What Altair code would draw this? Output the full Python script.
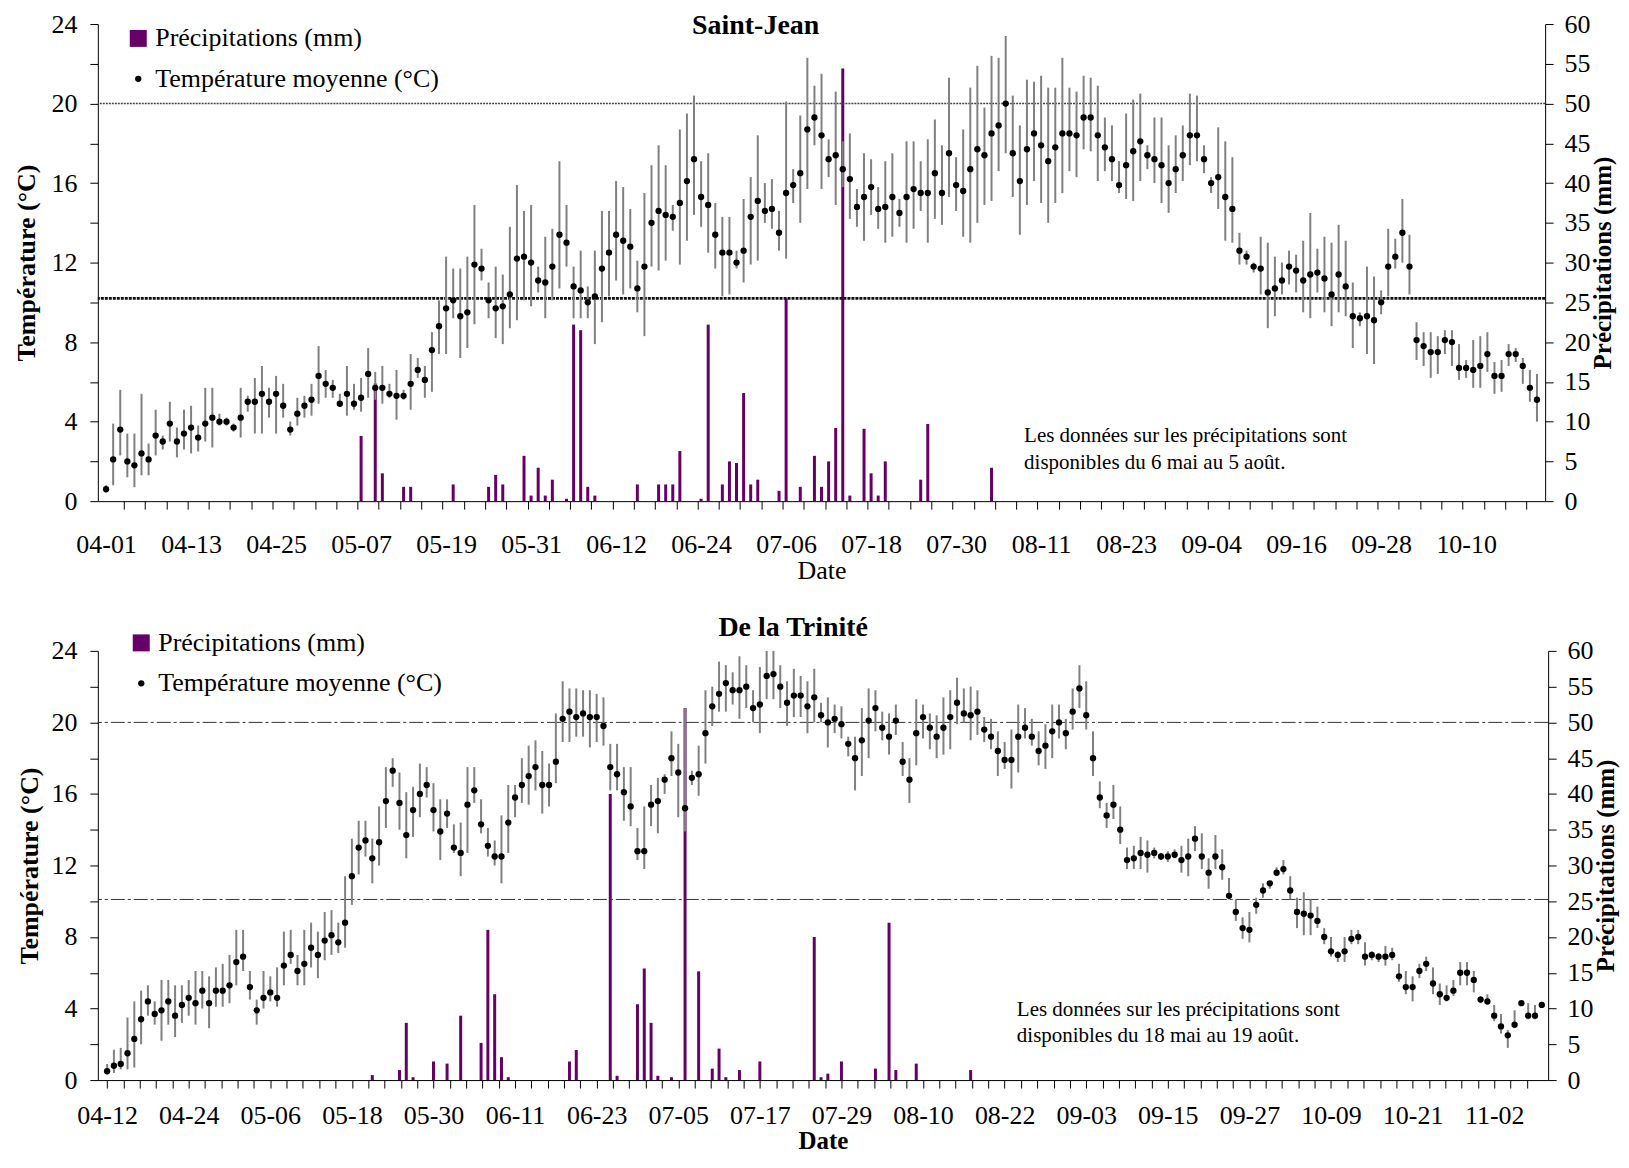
import altair as alt
import pandas as pd

FONT = "Liberation Serif"
POURPRE = "#660066"
SERIES = ["Précipitations (mm)", "Température moyenne (°C)"]

# ---------------- Saint-Jean : 1er avril -> 20 octobre ----------------
SJ_MOY = [
    0.6, 2.1, 3.6, 2.0, 1.8, 2.4, 2.1, 3.3, 3.0, 3.9,
    3.0, 3.4, 3.7, 3.2, 3.9, 4.2, 4.0, 4.0, 3.7, 4.2,
    5.0, 5.0, 5.4, 5.0, 5.4, 4.8, 3.6, 4.4, 4.8, 5.1,
    6.3, 5.9, 5.7, 4.9, 5.4, 4.9, 5.2, 6.4, 5.7, 5.7,
    5.4, 5.3, 5.3, 5.9, 6.6, 6.1, 7.6, 8.8, 9.7, 10.1,
    9.3, 9.5, 11.9, 11.7, 10.1, 9.7, 9.8, 10.4, 12.2, 12.3,
    12.0, 11.1, 11.0, 11.8, 13.4, 13.0, 10.8, 10.6, 10.0, 10.3,
    11.7, 12.5, 13.4, 13.1, 12.8, 10.7, 11.8, 14.0, 14.6, 14.4,
    14.3, 15.0, 16.1, 17.2, 15.3, 14.9, 13.4, 12.5, 12.5, 12.0,
    12.6, 14.3, 15.1, 14.6, 14.7, 13.5, 15.5, 15.9, 16.5, 18.7,
    19.3, 18.4, 17.2, 17.4, 16.7, 16.2, 14.8, 15.3, 15.8, 14.7,
    14.8, 15.3, 14.5, 15.3, 15.7, 15.5, 15.5, 16.5, 15.5, 17.5,
    15.9, 15.6, 16.7, 17.7, 17.4, 18.5, 18.9, 20.0, 17.5, 16.1,
    17.7, 18.5, 17.9, 17.1, 17.8, 18.5, 18.5, 18.4, 19.3, 19.3,
    18.4, 17.8, 17.2, 15.9, 16.9, 17.6, 18.1, 17.4, 17.2, 16.9,
    16.0, 16.7, 17.4, 18.4, 18.4, 17.2, 16.0, 16.3, 15.3, 14.7,
    12.6, 12.3, 11.8, 11.7, 10.5, 10.7, 11.1, 11.8, 11.6, 11.1,
    11.4, 11.5, 11.2, 10.4, 11.4, 10.8, 9.3, 9.2, 9.3, 9.1,
    10.0, 11.8, 12.3, 13.5, 11.8, 8.1, 7.8, 7.5, 7.5, 8.1,
    8.0, 6.7, 6.7, 6.6, 6.8, 7.4, 6.3, 6.3, 7.4, 7.4,
    6.8, 5.7, 5.1]
SJ_HAUT = [
    0.8, 3.9, 5.6, 3.4, 3.4, 5.4, 2.9, 4.6, 3.3, 5.0,
    3.7, 4.6, 4.8, 3.8, 5.7, 5.7, 4.4, 4.2, 3.9, 5.7,
    5.3, 6.2, 6.8, 5.7, 6.3, 5.9, 4.0, 5.2, 5.3, 5.9,
    7.8, 6.6, 6.1, 5.4, 6.8, 5.9, 6.2, 7.7, 6.5, 6.8,
    5.9, 6.6, 5.6, 7.4, 7.2, 6.8, 8.5, 10.1, 12.3, 11.7,
    11.7, 12.3, 14.9, 12.7, 11.0, 11.8, 11.4, 13.8, 15.9, 14.6,
    14.9, 11.8, 13.3, 13.7, 17.1, 14.9, 11.8, 12.6, 10.8, 12.6,
    14.6, 14.6, 16.1, 15.8, 14.7, 12.1, 15.5, 16.9, 17.9, 16.9,
    14.9, 18.7, 19.5, 20.4, 17.1, 17.5, 15.0, 14.3, 14.3, 12.6,
    15.2, 16.3, 18.4, 16.0, 16.2, 14.6, 20.1, 16.7, 19.4, 22.3,
    20.9, 21.5, 18.2, 20.6, 18.1, 18.5, 15.7, 17.5, 17.2, 15.8,
    17.1, 17.5, 15.2, 18.1, 18.1, 17.1, 18.2, 19.2, 17.9, 21.3,
    17.3, 18.7, 20.8, 21.9, 19.8, 22.4, 22.3, 23.4, 20.4, 18.9,
    21.2, 21.1, 21.4, 20.8, 20.8, 22.3, 20.8, 20.6, 21.4, 21.3,
    20.9, 19.3, 18.9, 17.1, 19.5, 20.2, 20.5, 17.9, 19.3, 19.3,
    17.9, 18.4, 18.9, 20.5, 20.4, 17.9, 16.3, 18.8, 18.1, 17.3,
    13.5, 12.6, 12.0, 13.3, 13.0, 12.3, 12.0, 12.6, 12.4, 13.1,
    14.5, 12.7, 13.3, 13.0, 13.9, 13.1, 11.0, 9.5, 11.8, 11.3,
    10.6, 13.7, 13.2, 15.2, 13.4, 9.0, 8.5, 8.5, 8.3, 8.6,
    8.6, 7.9, 7.1, 8.1, 8.3, 8.5, 7.0, 7.1, 7.9, 7.7,
    7.2, 6.6, 6.4]
SJ_BAS = [
    0.5, 0.8, 2.3, 1.2, 0.7, 1.3, 1.3, 2.3, 2.6, 3.0,
    2.2, 2.6, 2.4, 2.5, 3.0, 2.7, 3.8, 3.8, 3.5, 3.2,
    4.5, 3.4, 3.4, 4.2, 3.4, 4.2, 3.3, 3.8, 4.2, 4.3,
    4.9, 5.2, 5.2, 4.8, 4.3, 4.6, 4.5, 5.2, 5.1, 4.9,
    5.2, 4.1, 5.1, 4.6, 6.2, 5.2, 5.5, 7.4, 7.4, 9.2,
    7.2, 7.7, 8.9, 11.1, 9.2, 8.2, 7.9, 8.7, 9.1, 10.1,
    9.8, 10.5, 9.2, 10.1, 10.7, 11.8, 9.2, 9.2, 9.2, 7.9,
    9.0, 10.3, 11.1, 10.4, 10.7, 9.5, 8.3, 11.8, 11.6, 12.1,
    13.6, 11.9, 13.1, 14.4, 13.8, 12.5, 11.7, 10.3, 10.4, 11.7,
    11.0, 11.9, 12.1, 14.0, 13.7, 12.6, 12.2, 15.0, 14.0, 15.7,
    17.9, 15.7, 16.3, 14.9, 15.8, 14.2, 13.8, 13.1, 14.4, 13.7,
    13.0, 13.3, 13.8, 13.0, 13.7, 14.6, 13.0, 14.2, 13.9, 15.3,
    14.6, 13.3, 13.0, 14.0, 14.9, 15.1, 16.6, 17.5, 15.3, 13.4,
    14.9, 16.1, 15.0, 14.0, 15.0, 15.5, 16.6, 16.3, 17.7, 17.6,
    16.1, 16.6, 16.1, 15.5, 15.2, 15.1, 16.1, 16.7, 16.0, 15.0,
    14.5, 15.5, 16.1, 16.9, 17.1, 16.5, 15.5, 14.7, 13.1, 13.0,
    11.9, 11.9, 11.5, 10.4, 8.7, 9.3, 10.4, 10.9, 10.5, 9.5,
    9.2, 10.5, 9.5, 8.8, 9.5, 9.3, 7.7, 8.8, 7.4, 6.9,
    9.4, 10.3, 11.7, 12.0, 10.4, 7.1, 6.8, 6.2, 6.4, 7.4,
    6.8, 6.1, 6.2, 5.7, 5.7, 6.5, 5.4, 5.5, 6.8, 7.0,
    5.9, 5.0, 4.0]
SJ_PLUIE_DEBUT = 35  # 6 mai (jour 35 après le 1er avril)
SJ_PLUIE = [
    0, 8.2, 0, 14.8, 3.5, 0, 0, 1.8, 1.8, 0,
    0, 0, 0, 0, 2.1, 0, 0, 0, 0, 1.8,
    3.3, 2.1, 0, 0, 5.7, 0.7, 4.2, 0.7, 2.7, 0,
    0.3, 22.2, 21.5, 1.8, 0.7, 0, 0, 0, 0, 0,
    2.1, 0, 0, 2.1, 2.1, 2.1, 6.3, 0, 0, 0.3,
    22.2, 0, 2.1, 5.0, 4.8, 13.6, 2.1, 2.7, 0, 0,
    1.3, 25.5, 0, 1.8, 0, 5.7, 1.8, 5.0, 9.2, 54.4,
    0.7, 0, 9.1, 3.5, 0.7, 5.0, 0, 0, 0, 0,
    2.7, 9.7, 0, 0, 0, 0, 0, 0, 0, 0,
    4.2, 0]

# ---------------- De la Trinité : 12 avril -> 9 novembre ----------------
TR_MOY = [
    0.5, 0.8, 0.9, 1.5, 2.3, 3.4, 4.4, 3.7, 3.9, 4.4,
    3.6, 4.2, 4.6, 4.3, 5.0, 4.3, 5.0, 5.0, 5.3, 6.6,
    6.9, 5.2, 3.9, 4.6, 4.9, 4.6, 6.4, 7.0, 6.1, 6.5,
    7.4, 7.0, 7.8, 8.1, 7.7, 8.8, 11.4, 13.0, 13.4, 12.4,
    13.3, 15.6, 17.3, 15.5, 13.7, 15.1, 16.0, 16.5, 15.1, 13.9,
    14.9, 13.0, 12.7, 15.4, 16.2, 14.3, 13.1, 12.5, 12.5, 14.4,
    15.8, 16.5, 17.0, 17.5, 16.5, 16.5, 17.8, 20.2, 20.6, 20.3,
    20.5, 20.3, 20.3, 19.8, 17.5, 17.1, 16.1, 15.3, 12.8, 12.8,
    15.4, 15.6, 16.8, 18.0, 17.2, 15.2, 16.9, 17.1, 19.4, 20.9,
    21.6, 22.2, 21.8, 21.8, 22.0, 20.8, 21.0, 22.6, 22.7, 22.0,
    21.1, 21.5, 21.5, 20.9, 21.4, 20.4, 20.0, 20.2, 19.9, 18.8,
    18.0, 19.0, 20.1, 20.8, 19.7, 19.2, 20.1, 17.8, 16.8, 19.4,
    20.3, 19.7, 19.2, 19.7, 20.3, 21.1, 20.5, 20.4, 20.6, 19.6,
    19.2, 18.4, 17.9, 17.9, 19.2, 19.7, 19.2, 18.4, 18.7, 19.5,
    20.0, 19.4, 20.6, 21.9, 20.4, 18.0, 15.8, 14.8, 15.4, 14.0,
    12.3, 12.4, 12.7, 12.6, 12.7, 12.5, 12.5, 12.6, 12.3, 12.5,
    13.5, 12.5, 11.6, 12.5, 11.9, 10.3, 9.4, 8.5, 8.4, 9.8,
    10.6, 11.0, 11.6, 11.8, 10.6, 9.4, 9.3, 9.2, 8.9, 8.0,
    7.2, 7.0, 7.2, 7.9, 8.0, 6.9, 7.0, 6.9, 6.9, 7.0,
    5.8, 5.2, 5.2, 6.1, 6.5, 5.4, 4.8, 4.6, 5.0, 6.0,
    6.0, 5.6, 4.5, 4.4, 3.6, 3.0, 2.5, 3.1, 4.3, 3.6,
    3.6, 4.2]
TR_HAUT = [
    0.9, 1.7, 1.8, 3.5, 4.4, 5.0, 5.3, 4.4, 5.6, 5.6,
    5.3, 5.3, 5.6, 6.1, 6.1, 5.8, 6.3, 6.5, 7.0, 8.4,
    8.4, 6.1, 4.5, 6.1, 5.8, 6.3, 8.3, 8.4, 7.0, 8.4,
    8.8, 8.3, 9.4, 9.5, 8.8, 11.4, 13.5, 14.5, 14.5, 13.5,
    15.3, 17.5, 18.0, 17.2, 16.1, 16.4, 17.7, 17.5, 16.6, 15.7,
    15.7, 14.3, 14.4, 17.5, 17.5, 15.7, 14.1, 13.4, 14.8, 16.5,
    16.5, 18.0, 18.7, 19.0, 18.4, 17.7, 20.5, 22.3, 21.9, 21.9,
    21.8, 21.8, 21.6, 21.4, 18.8, 18.8, 17.5, 17.5, 14.1, 15.3,
    16.5, 16.9, 17.1, 19.5, 18.8, 20.8, 17.3, 18.7, 21.8, 22.0,
    23.4, 23.2, 22.8, 23.7, 23.2, 21.8, 23.1, 24.0, 24.0, 23.2,
    22.3, 23.0, 22.6, 22.3, 23.0, 21.1, 21.4, 21.0, 20.9, 19.2,
    19.2, 20.8, 21.9, 21.8, 20.6, 20.5, 21.0, 18.9, 18.0, 21.3,
    21.0, 20.5, 20.4, 21.4, 21.8, 22.5, 21.9, 22.0, 21.8, 20.3,
    20.2, 19.5, 18.9, 19.6, 21.0, 20.8, 20.2, 19.5, 19.9, 21.0,
    21.0, 20.2, 21.9, 23.2, 22.3, 19.5, 16.7, 15.5, 16.5, 15.3,
    13.0, 13.1, 13.6, 13.4, 13.0, 12.7, 12.8, 12.9, 13.1, 13.5,
    14.2, 13.8, 12.4, 13.7, 12.9, 11.3, 10.1, 9.1, 9.4, 10.2,
    11.0, 11.1, 11.9, 12.3, 11.4, 10.2, 10.5, 10.1, 9.7, 8.5,
    8.0, 7.2, 8.0, 8.4, 8.4, 7.7, 7.2, 7.1, 7.5, 7.4,
    6.5, 6.1, 5.8, 6.5, 6.9, 6.3, 5.4, 5.3, 5.6, 6.6,
    6.6, 6.1, 4.7, 4.8, 4.2, 3.7, 2.8, 3.9, 4.4, 4.3,
    4.2, 4.3]
TR_BAS = [
    0.3, 0.4, 0.6, 0.6, 0.7, 2.0, 3.6, 3.1, 2.2, 3.1,
    2.4, 3.2, 3.6, 3.1, 4.0, 2.9, 4.1, 4.1, 4.3, 5.3,
    6.1, 4.5, 3.1, 4.0, 4.4, 4.1, 5.3, 6.5, 5.3, 5.3,
    6.3, 5.7, 6.7, 7.0, 7.1, 7.4, 9.8, 11.5, 12.5, 11.0,
    12.0, 14.1, 16.4, 14.0, 12.4, 13.6, 14.7, 15.8, 13.9, 12.3,
    14.1, 12.7, 11.4, 12.7, 15.5, 13.8, 12.5, 12.0, 11.0, 12.7,
    14.7, 15.5, 15.4, 16.2, 14.9, 15.3, 16.6, 18.9, 18.9, 19.2,
    19.2, 18.6, 18.9, 18.7, 16.2, 16.2, 14.5, 14.2, 12.3, 11.8,
    14.2, 13.8, 16.0, 17.0, 14.7, 13.9, 16.5, 15.9, 17.7, 19.8,
    20.6, 20.6, 21.0, 20.2, 20.8, 20.0, 19.4, 21.3, 21.3, 20.8,
    19.8, 20.3, 20.3, 19.4, 20.0, 20.0, 18.6, 19.4, 19.1, 18.1,
    16.2, 17.0, 18.0, 19.5, 19.0, 18.2, 19.3, 17.0, 15.5, 17.6,
    19.1, 18.5, 18.0, 18.2, 18.5, 19.9, 20.0, 19.0, 19.3, 18.9,
    18.5, 17.0, 17.4, 16.3, 17.2, 19.1, 18.7, 17.6, 17.4, 18.0,
    19.1, 18.5, 19.6, 20.8, 19.6, 17.0, 15.2, 14.1, 14.6, 13.2,
    11.8, 11.8, 11.8, 11.6, 12.4, 12.3, 12.2, 12.4, 11.6, 11.4,
    12.8, 11.8, 10.7, 11.8, 11.2, 10.1, 8.9, 7.9, 7.7, 9.3,
    10.2, 10.7, 11.4, 11.5, 10.1, 8.5, 8.1, 8.1, 8.5, 7.6,
    6.9, 6.6, 6.6, 7.6, 7.6, 6.4, 6.7, 6.6, 6.4, 6.7,
    5.5, 4.8, 4.4, 5.7, 6.1, 4.8, 4.2, 4.4, 4.7, 5.3,
    5.3, 4.9, 4.3, 4.2, 3.3, 2.6, 1.8, 2.9, 4.2, 3.4,
    3.4, 4.1]
TR_PLUIE_DEBUT = 36  # 18 mai (jour 36 après le 12 avril)
TR_PLUIE = [
    0, 0, 0, 0.7, 0, 0, 0, 1.4, 8.0, 0.4,
    0, 0, 2.6, 0, 2.3, 0, 9.0, 0, 0, 5.2,
    21.0, 12.0, 3.2, 0.4, 0, 0, 0, 0, 0, 0,
    0, 0, 2.6, 4.2, 0, 0, 0, 0, 40.0, 0.6,
    0, 0, 10.6, 15.6, 8.0, 0.6, 0, 0.4, 0, 52.0,
    0, 15.2, 0, 1.6, 4.4, 0.4, 0, 1.4, 0, 0,
    2.6, 0, 0, 0, 0, 0, 0, 0, 20.0, 0.4,
    0.9, 0, 2.6, 0, 0, 0, 0, 1.6, 0, 22.0,
    1.4, 0, 0, 2.3, 0, 0, 0, 0, 0, 0,
    0, 1.4, 0, 0]

NOTE_SJ = ["Les données sur les précipitations sont", "disponibles du 6 mai au 5 août."]
NOTE_TR = ["Les données sur les précipitations sont", "disponibles du 18 mai au 19 août."]


def panel(moy, haut, bas, pluie, pluie_debut, jour0, x_dom, x_vals, lab_test, tick_op,
          w, h, refs, titre, titre_pos, notes, notes_pos, leg_xy, date_bold, date_size,
          x_lp, y_tp, r_lp, r_tp):
    n = len(moy)
    temp = pd.DataFrame({"i": list(range(n)), "moy": moy, "haut": haut, "bas": bas,
                         "serie": SERIES[1]})
    rain = pd.DataFrame({"i": list(range(pluie_debut, pluie_debut + len(pluie))), "mm": pluie})

    label_expr = (f"({lab_test}) ? timeFormat(datetime(2021, 3, {jour0} + round(datum.value)), "
                  f"'%m-%d') : ''")
    xaxis = alt.Axis(values=x_vals, labelExpr=label_expr, tickOpacity=tick_op, title="Date",
                     titleFont=FONT, titleFontSize=date_size,
                     titleFontWeight="bold" if date_bold else "normal",
                     titleColor="black", titlePadding=0, labelFont=FONT, labelFontSize=26,
                     labelColor="black", labelPadding=x_lp, labelFlush=False,
                     labelOverlap=False, tickSize=8, tickColor="black", tickWidth=1,
                     domainColor="black", domainWidth=1, grid=False)
    X = alt.X("i:Q", scale=alt.Scale(domain=x_dom, nice=False, zero=False), axis=xaxis)

    yaxis = alt.Axis(values=list(range(0, 25, 2)),
                     labelExpr="datum.value % 4 === 0 ? datum.label : ''",
                     title="Température (°C)", orient="left", titleFont=FONT,
                     titleFontSize=26, titleFontWeight="bold", titleColor="black",
                     titlePadding=y_tp, labelFont=FONT, labelFontSize=26, labelColor="black",
                     labelPadding=13, tickSize=8, tickColor="black", domainColor="black",
                     grid=False)

    def ytemp(field):
        return alt.Y(f"{field}:Q", scale=alt.Scale(domain=[0, 24], nice=False), axis=yaxis)

    raxis = alt.Axis(values=list(range(0, 61, 5)), title="Précipitations (mm)", orient="right",
                     titleFont=FONT, titleFontSize=25, titleFontWeight="bold",
                     titleColor="black", titleAngle=270, titleBaseline="top",
                     titlePadding=r_tp, labelFont=FONT, labelFontSize=26, labelColor="black",
                     labelPadding=r_lp, tickSize=8, tickColor="black", domainColor="black",
                     grid=False)

    bars = alt.Chart(rain).transform_filter("datum.mm > 0").mark_bar(
        size=3, color=POURPRE).encode(
        x=X, y=alt.Y("mm:Q", scale=alt.Scale(domain=[0, 60], nice=False), axis=raxis))

    rules = []
    for val, dash, sw, col in refs:
        rules.append(alt.Chart(pd.DataFrame({"v": [val]})).mark_rule(
            strokeDash=dash, strokeWidth=sw, color=col).encode(y=ytemp("v")))

    err = alt.Chart(temp).mark_rule(color="#808080", strokeWidth=2).encode(
        x=X, y=ytemp("bas"), y2=alt.Y2("haut:Q"))

    leg = alt.Legend(title=None, orient="none", legendX=leg_xy[0], legendY=leg_xy[1],
                     labelFont=FONT, labelFontSize=26, labelColor="black", labelLimit=600,
                     rowPadding=14.5, labelOffset=4, padding=0, symbolStrokeWidth=0,
                     symbolOpacity=1)
    pts = alt.Chart(temp).mark_point(filled=True, opacity=1).encode(
        x=X, y=ytemp("moy"),
        color=alt.Color("serie:N", scale=alt.Scale(domain=SERIES, range=[POURPRE, "black"]),
                        legend=leg),
        shape=alt.Shape("serie:N", scale=alt.Scale(domain=SERIES, range=["square", "circle"]),
                        legend=leg),
        size=alt.Size("serie:N", scale=alt.Scale(domain=SERIES, range=[289, 40]), legend=leg))

    tdf = pd.DataFrame({"i": [titre_pos[0]], "t": [titre_pos[1]], "txt": [titre]})
    ttl = alt.Chart(tdf).mark_text(font=FONT, fontSize=28, fontWeight="bold", color="black",
                                   align="center", baseline="middle").encode(
        x=X, y=ytemp("t"), text="txt:N")

    ndf = pd.DataFrame({"i": [notes_pos[0]] * 2, "t": notes_pos[1], "txt": notes})
    nts = alt.Chart(ndf).mark_text(font=FONT, fontSize=21, color="black", align="left",
                                   baseline="middle").encode(x=X, y=ytemp("t"), text="txt:N")

    temp_layer = alt.layer(*rules, err, pts, ttl, nts)
    return alt.layer(bars, temp_layer).resolve_scale(y="independent").properties(
        width=w, height=h)


top_vals = sorted(set([2.5 + 3 * k for k in range(67)] + [12 * j for j in range(17)]))
top = panel(SJ_MOY, SJ_HAUT, SJ_BAS, SJ_PLUIE, SJ_PLUIE_DEBUT, 1, [-0.46, 202.45], top_vals,
            "datum.value % 12 === 0",
            {"condition": {"test": "datum.value % 12 === 0", "value": 0}, "value": 1},
            1450, 478,
            [(20, [2, 1], 1.5, "#444444"), (10.2, [3, 1], 3, "#111111")],
            "Saint-Jean", (91.7, 23.9), NOTE_SJ, (129.6, [3.26, 1.91]), (27.5, 1.4),
            False, 26, 22, 11, 11, 0)

bot_vals = [round(2.4 * k, 4) for k in range(88)]
bottom = panel(TR_MOY, TR_HAUT, TR_BAS, TR_PLUIE, TR_PLUIE_DEBUT, 12, [-0.63, 211.2], bot_vals,
               "abs(datum.value / 12 - round(datum.value / 12)) < 0.001", 1,
               1453, 430,
               [(20, [14, 3, 3, 3], 1, "#333333"), (10.1, [14, 3, 3, 3], 1, "#333333")],
               "De la Trinité", (100.9, 25.26), NOTE_TR, (133.8, [3.91, 2.48]), (30.5, -21),
               True, 25, 15, 8, 11, 0)

chart = alt.vconcat(top, bottom, spacing=31).resolve_scale(
    color="independent", shape="independent", size="independent").resolve_legend(
    color="independent", shape="independent", size="independent").properties(
    padding={"left": 6, "top": 2, "right": 3, "bottom": 0}).configure_view(stroke=None)

chart.save("out.html", embed_options={"renderer": "svg", "actions": False})
